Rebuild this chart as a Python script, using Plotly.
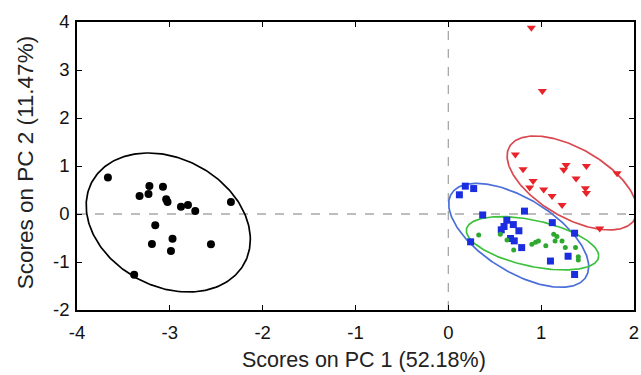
import numpy as np
import plotly.graph_objects as go

# ---- data ----
black_x = [-3.667, -3.326, -3.23, -3.22, -3.074, -3.039, -3.025, -2.88, -2.805, -2.726,
           -2.342, -3.157, -3.193, -2.971, -2.988, -2.557, -3.384]
black_y = [0.76, 0.375, 0.417, 0.583, 0.569, 0.306, 0.25, 0.153, 0.19, 0.06,
           0.25, -0.236, -0.625, -0.514, -0.771, -0.632, -1.264]

blue_x = [0.183, 0.273, 0.119, 0.37, 0.82, 0.63, 0.70, 0.60, 0.57, 0.76,
          1.12, 1.36, 0.67, 0.71, 0.24, 0.79, 1.10, 1.29, 1.36]
blue_y = [0.58, 0.53, 0.40, -0.02, 0.06, -0.13, -0.22, -0.26, -0.33, -0.35,
          -0.18, -0.40, -0.51, -0.56, -0.58, -0.70, -0.98, -0.88, -1.26]

green_x = [0.327, 0.56, 0.632, 0.704, 0.90, 0.94, 0.97, 1.05, 1.135, 1.17,
           1.15, 1.225, 1.26, 1.37, 1.40, 1.40]
green_y = [-0.44, -0.42, -0.54, -0.75, -0.63, -0.59, -0.56, -0.66, -0.42, -0.47,
           -0.56, -0.56, -0.70, -0.70, -0.89, -0.96]

red_x = [0.894, 1.013, 0.722, 0.805, 0.913, 0.876, 1.027, 1.117, 1.225, 1.268,
         1.243, 1.487, 1.376, 1.476, 1.487, 1.818, 1.631]
red_y = [3.88, 2.56, 1.24, 0.93, 0.69, 0.55, 0.51, 0.375, 0.19, 1.02,
         0.92, 1.00, 0.74, 0.535, 0.44, 0.85, -0.30]

# ellipse parameters: centre x, centre y, half-width x, half-height y, phase
ell_black = [-3.017, -0.177, 0.884, 1.448, np.arccos(-0.244)]
ell_blue = [0.758, -0.444, 0.754, 1.083, np.arccos(-0.604)]
ell_green = [0.907, -0.610, 0.713, 0.556, np.arccos(-0.475)]
ell_red = [1.333, 0.646, 0.700, 0.979, np.arccos(-0.575)]

x_ticks = [-4, -3, -2, -1, 0, 1, 2]
y_ticks = [-2, -1, 0, 1, 2, 3, 4]
x_title = "Scores on PC 1 (52.18%)"
y_title = "Scores on PC 2 (11.47%)"


def ellipse(p):
    t = np.linspace(0, 2 * np.pi, 240)
    cx, cy, X, Y, d = p
    return cx + X * np.cos(t), cy + Y * np.cos(t + d)


fig = go.Figure()

for p, col in [(ell_black, "#000000"), (ell_red, "#d9484f"),
               (ell_blue, "#4a6fd8"), (ell_green, "#3cc13c")]:
    ex, ey = ellipse(p)
    fig.add_trace(go.Scatter(x=ex, y=ey, mode="lines",
                             line=dict(color=col, width=1.7), hoverinfo="skip"))

fig.add_trace(go.Scatter(x=black_x, y=black_y, mode="markers",
                         marker=dict(symbol="circle", size=8, color="#000000")))
fig.add_trace(go.Scatter(x=red_x, y=red_y, mode="markers",
                         marker=dict(symbol="triangle-down", size=8, color="#e8242a")))
fig.add_trace(go.Scatter(x=blue_x, y=blue_y, mode="markers",
                         marker=dict(symbol="square", size=7, color="#1a2ee0")))
fig.add_trace(go.Scatter(x=green_x, y=green_y, mode="markers",
                         marker=dict(symbol="circle", size=5, color="#2fa82f")))

# dashed zero lines
fig.add_shape(type="line", xref="x", yref="paper", x0=0, x1=0, y0=0, y1=1,
              line=dict(color="#a8a8a8", width=1.3, dash="dash"), layer="below")
fig.add_shape(type="line", xref="paper", yref="y", x0=0, x1=1, y0=0, y1=0,
              line=dict(color="#a8a8a8", width=1.3, dash="dash"), layer="below")

FONT = "Liberation Sans, Arial"
axis_common = dict(showgrid=False, zeroline=False, showline=True, linecolor="#000000",
                   linewidth=1.6, mirror="allticks", ticks="inside", ticklen=5,
                   tickcolor="#000000", automargin=False, ticklabeloverflow="allow",
                   tickfont=dict(family=FONT, size=18.5, color="#111111"))

# axis titles as annotations (exact placement)
fig.add_annotation(text=x_title, xref="paper", yref="paper", x=0.515, y=-0.174,
                   xanchor="center", yanchor="middle", showarrow=False,
                   font=dict(family=FONT, size=21.5, color="#222222"))
fig.add_annotation(text=y_title, xref="paper", yref="paper", x=-0.093, y=0.51,
                   xanchor="center", yanchor="middle", showarrow=False, textangle=-90,
                   font=dict(family=FONT, size=22.5, color="#222222"))

fig.update_layout(
    width=641, height=375,
    margin=dict(l=77, r=7, t=22, b=65),
    paper_bgcolor="white", plot_bgcolor="white",
    showlegend=False,
    xaxis=dict(range=[-4, 2], tickvals=x_ticks, ticktext=[str(v) for v in x_ticks],
               ticklabelstandoff=5, **axis_common),
    yaxis=dict(range=[-2, 4], tickvals=y_ticks, ticktext=[str(v) for v in y_ticks],
               ticklabelstandoff=2, **axis_common),
)

fig.write_html("out.html", config={"displayModeBar": False},
               post_script="document.body.style.margin='0';"
                           "document.documentElement.style.overflow='hidden';")
